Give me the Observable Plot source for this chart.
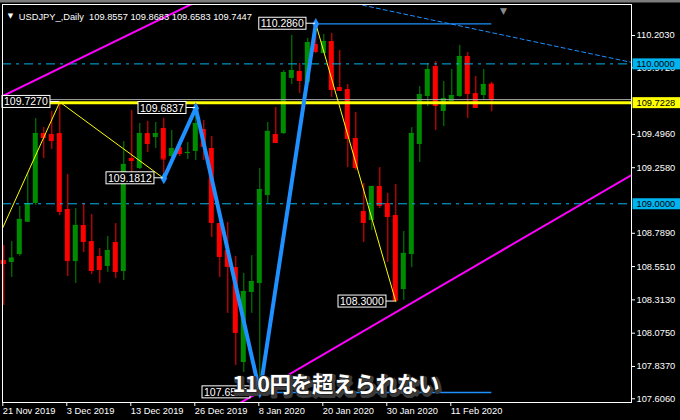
<!DOCTYPE html>
<html><head><meta charset="utf-8">
<script src="https://cdn.jsdelivr.net/npm/d3@7"></script>
<script src="https://cdn.jsdelivr.net/npm/@observablehq/plot@0.6"></script>
<style>
html,body{margin:0;padding:0;background:#000;}
#chart svg{display:block;}
</style></head><body>
<div id="chart"></div>
<script>
// ---- data ----
const dates = ["2019-11-21","2019-11-22","2019-11-25","2019-11-26","2019-11-27","2019-11-28","2019-11-29",
"2019-12-02","2019-12-03","2019-12-04","2019-12-05","2019-12-06","2019-12-09","2019-12-10","2019-12-11","2019-12-12","2019-12-13",
"2019-12-16","2019-12-17","2019-12-18","2019-12-19","2019-12-20","2019-12-23","2019-12-24","2019-12-26","2019-12-27","2019-12-30","2019-12-31",
"2020-01-02","2020-01-03","2020-01-06","2020-01-07","2020-01-08","2020-01-09","2020-01-10","2020-01-13","2020-01-14","2020-01-15","2020-01-16","2020-01-17",
"2020-01-20","2020-01-21","2020-01-22","2020-01-23","2020-01-24","2020-01-27","2020-01-28","2020-01-29","2020-01-30","2020-01-31",
"2020-02-03","2020-02-04","2020-02-05","2020-02-06","2020-02-07","2020-02-10","2020-02-11","2020-02-12","2020-02-13","2020-02-14","2020-02-17","2020-02-18"];
const open  = [108.594,108.580,108.637,108.868,109.002,109.502,109.495,109.502,108.959,108.587,108.845,108.730,108.623,108.552,108.723,108.516,109.324,
109.252,109.502,109.474,109.538,109.338,109.402,109.359,109.374,109.531,109.395,108.859,108.666,108.544,107.865,108.366,108.430,109.059,109.495,109.502,
109.896,109.946,109.867,110.139,110.074,110.160,109.831,109.817,109.467,108.945,108.880,109.124,109.002,108.916,108.387,108.637,109.424,109.767,109.981,
109.660,109.731,109.767,110.053,109.788,109.774,109.8557];
const high  = [108.702,108.730,108.981,109.216,109.610,109.545,109.660,109.727,109.209,108.966,109.002,108.923,108.680,108.766,108.859,109.445,109.667,
109.574,109.588,109.581,109.610,109.524,109.460,109.438,109.684,109.595,109.481,108.880,108.866,108.623,108.502,108.630,109.252,109.581,109.688,109.953,
110.203,110.003,110.182,110.286,110.210,110.217,110.096,109.853,109.653,109.145,109.124,109.259,109.074,109.138,108.802,109.545,109.838,110.003,110.017,
109.874,109.960,110.132,110.081,109.910,109.960,109.8683];
const low   = [108.273,108.473,108.625,108.866,108.988,109.324,109.388,108.916,108.480,108.430,108.652,108.494,108.430,108.509,108.466,108.452,109.224,
109.245,109.367,109.395,109.181,109.324,109.338,109.317,109.309,109.309,108.759,108.473,108.216,107.844,107.794,108.216,107.651,109.002,109.431,109.495,
109.853,109.788,109.860,110.074,110.074,109.760,109.810,109.259,109.238,108.723,108.809,108.966,108.580,108.300,108.309,108.544,109.295,109.695,109.524,
109.552,109.731,109.760,109.610,109.688,109.738,109.6583];
const close = [108.573,108.611,108.888,109.002,109.502,109.474,109.452,108.945,108.594,108.845,108.730,108.523,108.530,108.666,108.516,109.281,109.309,
109.502,109.431,109.502,109.320,109.395,109.359,109.367,109.574,109.410,108.866,108.623,108.552,108.080,108.373,108.444,109.102,109.517,109.438,109.938,
109.953,109.881,110.153,110.089,110.160,109.817,109.810,109.467,109.259,108.866,109.124,108.988,108.909,108.309,108.645,109.502,109.781,109.960,109.703,
109.753,109.774,110.053,109.788,109.688,109.853,109.7447];

const xTickIdx = [0, 8, 16, 24, 32, 40, 48, 56];
const xTickLabels = ["21 Nov 2019","3 Dec 2019","13 Dec 2019","26 Dec 2019","8 Jan 2020","20 Jan 2020","30 Jan 2020","11 Feb 2020"];
const yTicks = [110.203,109.972,109.496,109.258,108.789,108.551,108.313,108.075,107.837,107.606];

const roundLevels = [110.0, 109.0];          // dash-dot levels
const resistLevel = [109.7228];              // yellow level
// zigzag (bar index, price)
const zzIdx   = [-5, 7, 20, 24, 32, 39, 49];
const zzPrice = [108.215, 109.727, 109.1812, 109.6837, 107.651, 110.286, 108.300];
const waveIdx   = [20, 24, 32, 39];
const wavePrice = [109.1812, 109.6837, 107.651, 110.286];
const labelIdx   = [7, 24, 20, 39, 49, 32];
const labelPrice = [109.727, 109.6837, 109.1812, 110.286, 108.300, 107.651];
// horizontal segments (price, from bar, to bar)
const segPrice = [110.286, 107.651];
const segFrom  = [39, 32];
const segTo    = [61, 61];
// trend lines (two points each)
const upperTrend = [[-1, 109.746], [24, 110.442]];
const lowerTrend = [[29, 107.558], [80, 109.257]];
const dashTrend  = [[44, 110.430], [80, 109.992]];
const symbolName = "USDJPY_,Daily";
const bigText = "110円を超えられない";

// ---- build tables ----
const candles = dates.map((d, i) => ({i, date: d, o: open[i], h: high[i], l: low[i], c: close[i]}));
const zz = zzIdx.map((i, k) => ({i, p: zzPrice[k]}));
const wave = waveIdx.map((i, k) => ({i, p: wavePrice[k]}));
const labels = labelIdx.map((i, k) => ({i, p: labelPrice[k]}));
const segs = segPrice.map((p, k) => ({p, from: segFrom[k], to: segTo[k]}));
const toPts = a => a.map(([i, p]) => ({i, p}));
const last = candles[candles.length - 1];
const title = symbolName + "\u00a0\u00a0" + [last.o, last.h, last.l, last.c].map(v => v.toFixed(4)).join(" ");

const GREEN = "#008c00", RED = "#ff0000", BLUE = "#1e90ff", CYAN = "#00b4f0", YEL = "#ffff00", MAG = "#ff00ff";
const col = d => d.c >= d.o ? GREEN : RED;
const hw = 0.3125;
const FONT = "Liberation Sans, Arial, sans-serif";
const CJK = "Noto Sans CJK JP";

const chart = Plot.plot({
  width: 680, height: 420,
  marginLeft: 2, marginRight: 49, marginTop: 4, marginBottom: 18,
  x: {domain: [-0.1625, 78.4625]},
  y: {domain: [107.5794, 110.4246]},
  style: {background: "#000", color: "#fff", fontFamily: FONT, fontSize: "9.3px"},
  marks: [
    Plot.ruleX(candles, {x: "i", y1: "l", y2: "h", stroke: col, strokeWidth: 1}),
    Plot.rect(candles, {x1: d => d.i - hw, x2: d => d.i + hw, y1: "o", y2: "c", fill: col}),
    Plot.ruleY(candles, {x1: d => d.i - hw, x2: d => d.i + hw, y: "c", stroke: col}),
    Plot.ruleY(roundLevels, {stroke: CYAN, strokeDasharray: "9,5,3,5", strokeWidth: 1}),
    Plot.ruleY([last.c], {stroke: "#a8a8a8", strokeWidth: 1}),
    Plot.ruleY(resistLevel, {stroke: YEL, strokeWidth: 3}),
    Plot.line(toPts(upperTrend), {x: "i", y: "p", stroke: MAG, strokeWidth: 2, clip: true}),
    Plot.line(toPts(lowerTrend), {x: "i", y: "p", stroke: MAG, strokeWidth: 2, clip: true}),
    Plot.line(toPts(dashTrend), {x: "i", y: "p", stroke: BLUE, strokeWidth: 1, strokeDasharray: "4,3", clip: true}),
    Plot.ruleY(segs, {y: "p", x1: "from", x2: "to", stroke: BLUE, strokeWidth: 1.3}),
    Plot.line(zz, {x: "i", y: "p", stroke: YEL, strokeWidth: 1, clip: true}),
    Plot.line(wave, {x: "i", y: "p", stroke: BLUE, strokeWidth: 4}),
    Plot.dot(wave, {x: "i", y: "p", symbol: "diamond", r: 3.5, fill: BLUE}),
    Plot.text(labels, {x: "i", y: "p", text: d => d.p.toFixed(4), textAnchor: "end", dx: -12, fill: "white", fontSize: 10.5, fontFamily: FONT}),
    Plot.axisY({anchor: "right", ticks: yTicks, tickFormat: d3.format(".4f"), tickSize: 3, tickPadding: 2, stroke: "white", fill: "white", label: null, fontSize: 9.3, fontFamily: FONT}),
    Plot.axisX({anchor: "bottom", ticks: xTickIdx, tickFormat: d => xTickLabels[xTickIdx.indexOf(d)], tickSize: 4, tickPadding: 1, textAnchor: "start", dx: -1, stroke: "white", fill: "white", label: null, fontSize: 9.3, fontFamily: FONT}),
    Plot.text([...roundLevels, ...resistLevel], {y: d => d, text: d => d.toFixed(4), frameAnchor: "right", dx: 5, textAnchor: "start", fill: "black", fontSize: 9.3, fontFamily: FONT}),
    Plot.text(["\u25bc"], {frameAnchor: "top-left", dx: 8, dy: 9, textAnchor: "middle", fill: "white", fontSize: 7, fontFamily: "DejaVu Sans"}),
    Plot.text([title], {frameAnchor: "top-left", dx: 16.3, dy: 8.5, textAnchor: "start", fill: "white", fontSize: 9.3, fontFamily: FONT}),
    Plot.text(["\u25bc"], {frameAnchor: "top-left", dx: 501, dy: 3, textAnchor: "middle", fill: "#8a8a8a", fontSize: 9, fontFamily: "DejaVu Sans"}),
    Plot.text([bigText], {frameAnchor: "bottom", lineAnchor: "bottom", dx: 20.5, dy: -9, fill: "#3a3a3a", stroke: "#3a3a3a", strokeWidth: 4, fontSize: 21.5, fontWeight: "bold", fontFamily: CJK}),
    Plot.text([bigText], {frameAnchor: "bottom", lineAnchor: "bottom", dx: 19, dy: -10.5, fill: "white", stroke: "#222", strokeWidth: 1.5, paintOrder: "stroke", fontSize: 21.5, fontWeight: "bold", fontFamily: CJK}),
    Plot.frame({stroke: "white"})
  ]
});
document.getElementById("chart").append(chart);

// ---- label boxes ----
const NS = "http://www.w3.org/2000/svg";
const zzSet = new Set(labels.map(d => d.p.toFixed(4)));
const tagColor = new Map([...roundLevels.map(v => [v.toFixed(4), CYAN]), ...resistLevel.map(v => [v.toFixed(4), YEL])]);
chart.querySelectorAll('g[aria-label="text"] text').forEach(t => {
  const s = t.textContent;
  if (s === bigText) {
    t.setAttribute("textLength", 207);
    t.setAttribute("lengthAdjust", "spacing");
    return;
  }
  const b = t.getBBox();
  const tr = t.getAttribute("transform");
  const cy = b.y + b.height / 2;
  if (zzSet.has(s)) {
    const r = document.createElementNS(NS, "rect");
    r.setAttribute("x", b.x - 2); r.setAttribute("y", cy - 6);
    r.setAttribute("width", b.width + 4); r.setAttribute("height", 12);
    r.setAttribute("fill", "black"); r.setAttribute("stroke", "white"); r.setAttribute("stroke-width", 1);
    if (tr) r.setAttribute("transform", tr);
    t.parentNode.insertBefore(r, t);
    const l = document.createElementNS(NS, "line");
    l.setAttribute("x1", b.x + b.width + 2); l.setAttribute("x2", b.x + b.width + 11);
    l.setAttribute("y1", cy); l.setAttribute("y2", cy);
    l.setAttribute("stroke", "white");
    if (tr) l.setAttribute("transform", tr);
    t.parentNode.insertBefore(l, t);
  } else if (tagColor.has(s)) {
    const r = document.createElementNS(NS, "rect");
    r.setAttribute("x", b.x - 4); r.setAttribute("y", cy - 5.5);
    r.setAttribute("width", 48); r.setAttribute("height", 11);
    r.setAttribute("fill", tagColor.get(s));
    if (tr) r.setAttribute("transform", tr);
    t.parentNode.insertBefore(r, t);
  }
});
const strip = document.createElementNS(NS, "rect");
strip.setAttribute("x", 0); strip.setAttribute("y", 0); strip.setAttribute("width", 680); strip.setAttribute("height", 2.5);
strip.setAttribute("fill", "#7c7c7c");
chart.appendChild(strip);
</script>
</body></html>
